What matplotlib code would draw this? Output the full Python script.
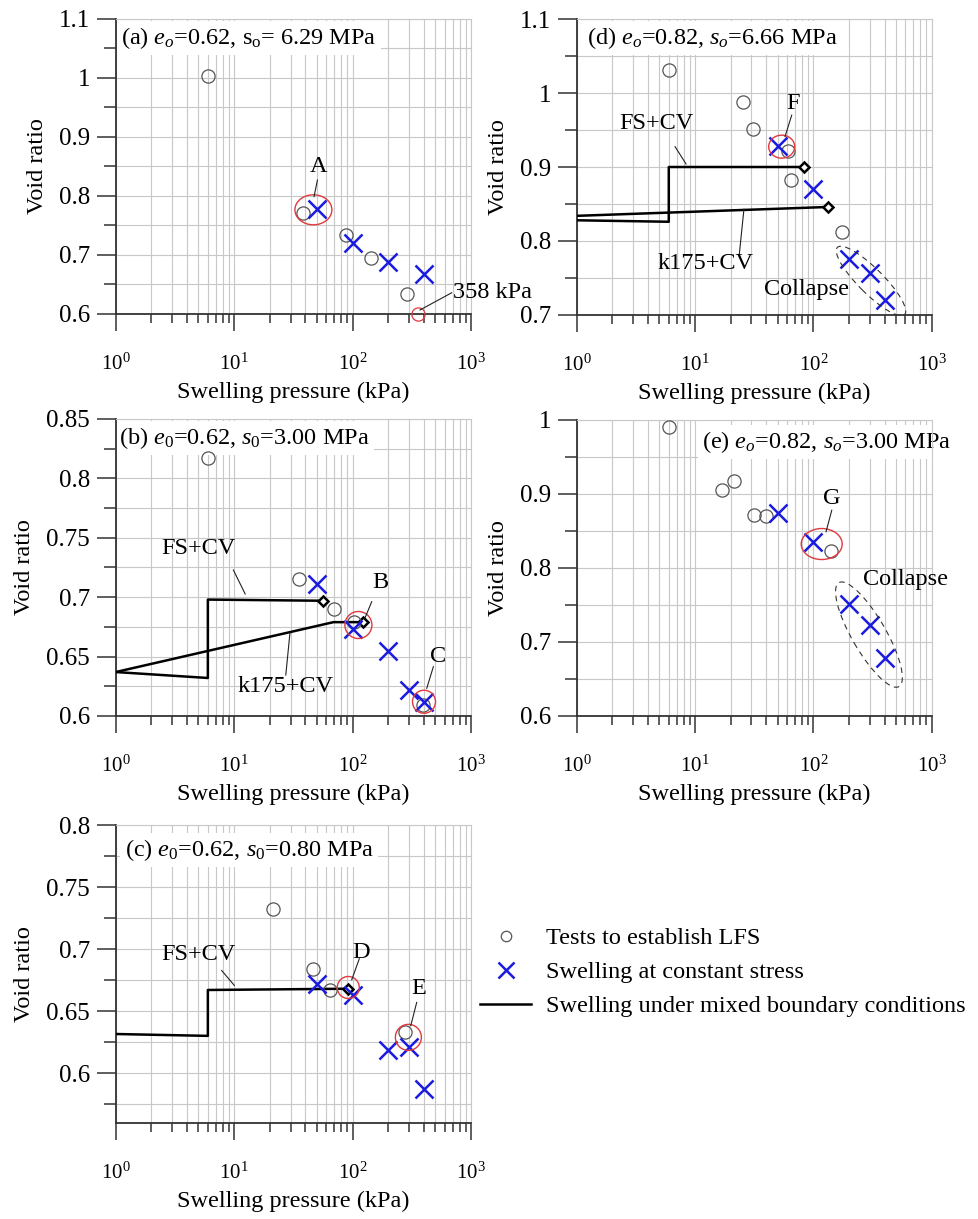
import numpy as np
import matplotlib
matplotlib.use("Agg")
import matplotlib.pyplot as plt
from matplotlib.patches import Ellipse
from matplotlib.transforms import ScaledTranslation
from matplotlib.ticker import MultipleLocator, FuncFormatter, LogLocator, NullFormatter
from matplotlib.lines import Line2D

plt.rcParams['font.family'] = ['Liberation Serif', 'DejaVu Serif']
plt.rcParams['mathtext.fontset'] = 'custom'
plt.rcParams['mathtext.rm'] = 'Liberation Serif'
plt.rcParams['mathtext.it'] = 'Liberation Serif:italic'
plt.rcParams['mathtext.bf'] = 'Liberation Serif:bold'

BLUE = '#1a1ae0'
RED = '#e0393e'
GRID = '#c8c8c8'
FS = 17.5

# ---- data (swelling pressure kPa, void ratio) ----
# (a) e0=0.62, s0=6.29 MPa
a_lfs_p = [6, 38, 87.5, 143, 290]
a_lfs_e = [1.003, 0.771, 0.734, 0.695, 0.634]
a_cs_p = [50, 100, 200, 400]
a_cs_e = [0.778, 0.720, 0.688, 0.667]
a_so_p = [358]
a_so_e = [0.600]

# (b) e0=0.62, s0=3.00 MPa
b_lfs_p = [6, 35.3, 70.1, 103, 390]
b_lfs_e = [0.817, 0.715, 0.690, 0.679, 0.609]
b_cs_p = [50, 100, 200, 300, 400]
b_cs_e = [0.711, 0.673, 0.655, 0.622, 0.612]
b_fs_p = [1, 6, 6, 56.6]
b_fs_e = [0.637, 0.632, 0.698, 0.697]
b_k175_p = [1, 69, 123]
b_k175_e = [0.637, 0.679, 0.679]

# (c) e0=0.62, s0=0.80 MPa
c_lfs_p = [21.4, 46.1, 64.5, 277]
c_lfs_e = [0.732, 0.684, 0.667, 0.633]
c_cs_p = [50, 100, 200, 300, 400]
c_cs_e = [0.672, 0.663, 0.619, 0.621, 0.587]
c_fs_p = [1, 6, 6, 92]
c_fs_e = [0.6315, 0.630, 0.667, 0.668]

# (d) e0=0.82, s0=6.66 MPa
d_lfs_p = [6, 25.3, 30.7, 61.5, 64.3, 173]
d_lfs_e = [1.031, 0.988, 0.952, 0.922, 0.882, 0.812]
d_cs_p = [50, 100, 200, 300, 400]
d_cs_e = [0.929, 0.870, 0.776, 0.757, 0.720]
d_fs_p = [1, 6, 6, 84]
d_fs_e = [0.828, 0.826, 0.900, 0.900]
d_k175_p = [1, 134]
d_k175_e = [0.834, 0.846]

# (e) e0=0.82, s0=3.00 MPa
e_lfs_p = [6, 16.8, 21.4, 31.5, 39.6, 140]
e_lfs_e = [0.991, 0.905, 0.917, 0.871, 0.870, 0.823]
e_cs_p = [50, 100, 200, 300, 400]
e_cs_e = [0.874, 0.835, 0.751, 0.723, 0.679]

fig = plt.figure(figsize=(9.79, 12.19), dpi=100)
W, H = 979, 1219


def make_axes(l, t, r, b):
    return fig.add_axes([l / W, 1 - b / H, (r - l) / W, (b - t) / H])


def setup(ax, ylim, major, minor, title, tx, ty):
    ax.set_xscale('log')
    ax.set_xlim(1, 1000)
    ax.set_ylim(*ylim)
    ax.yaxis.set_major_locator(MultipleLocator(major))
    ax.yaxis.set_minor_locator(MultipleLocator(minor))
    ax.yaxis.set_major_formatter(FuncFormatter(lambda v, p: f'{v:g}'))
    ax.xaxis.set_major_locator(LogLocator(base=10))
    ax.xaxis.set_minor_locator(LogLocator(base=10, subs=np.arange(2, 10)))
    ax.xaxis.set_minor_formatter(NullFormatter())
    ax.grid(True, which='both', color=GRID, lw=0.8)
    ax.set_axisbelow(True)
    for s in ['top', 'right']:
        ax.spines[s].set_color(GRID)
        ax.spines[s].set_linewidth(0.8)
    for s in ['left', 'bottom']:
        ax.spines[s].set_color('#333333')
        ax.spines[s].set_linewidth(1.3)
    ax.tick_params(which='both', direction='out', color='#333333', width=1.1)
    ax.tick_params(axis='x', which='major', length=12.5, labelsize=15, pad=16)
    ax.tick_params(axis='x', which='minor', length=6.5)
    ax.tick_params(axis='y', which='major', length=13.5, labelsize=18, pad=5)
    ax.tick_params(axis='y', which='minor', length=8.5)
    ax.set_xlabel('Swelling pressure (kPa)', fontsize=FS, labelpad=5)
    ax.set_ylabel('Void ratio', fontsize=FS, labelpad=8)
    ha = 'left' if tx < 0.5 else 'right'
    ax.text(tx, ty, title, transform=ax.transAxes, fontsize=FS, ha=ha, va='center',
            zorder=1, bbox=dict(facecolor='white', edgecolor='none', pad=3))


def lfs(ax, p, e):
    ax.plot(p, e, 'o', ms=9.5, mfc='none', mec='#555555', mew=0.9, zorder=3)


def cs(ax, p, e):
    ax.plot(p, e, 'x', ms=13, mec=BLUE, mew=1.8, zorder=4)


def mixed(ax, p, e):
    ax.plot(p, e, '-', color='k', lw=1.8, marker='D', markevery=[len(p) - 1],
            ms=5.5, mfc='white', mec='k', mew=1.8, zorder=3)


def ring(ax, x, y, w, h, color=RED, angle=0, ls='-', lw=1.0):
    # ellipse sized in pixels, centred on a data point
    el = Ellipse((0, 0), w / 100, h / 100, angle=angle, fill=False, edgecolor=color,
                 lw=lw, ls=ls, zorder=5,
                 transform=fig.dpi_scale_trans + ScaledTranslation(x, y, ax.transData))
    ax.add_patch(el)


def label(ax, text, xy, leader=None, ha='center'):
    ax.text(xy[0], xy[1], text, fontsize=FS, ha=ha, va='center', zorder=6)
    if leader is not None:
        (x1, y1), (x2, y2) = leader
        ax.plot([x1, x2], [y1, y2], color='#222222', lw=0.8, zorder=6, clip_on=False)


# (a)
ax = make_axes(115.7, 19, 471, 314)
setup(ax, (0.6, 1.1), 0.1, 0.05, r'(a) $e_o$=0.62, s$_\mathrm{o}$= 6.29 MPa', 0.015, 0.935)
lfs(ax, a_lfs_p, a_lfs_e)
cs(ax, a_cs_p, a_cs_e)
ax.plot(a_so_p, a_so_e, 'o', ms=9.5, mfc='none', mec=RED, mew=0.9, clip_on=False, zorder=3)
ring(ax, 46.7, 0.7766, 37, 30)
label(ax, 'A', (51.4, 0.85), ((50.5, 0.827), (47.3, 0.799)))
label(ax, '358 kPa', (700, 0.6356), ((371, 0.6068), (687, 0.636)), ha='left')

# (d)
ax = make_axes(576.7, 19, 931.7, 315)
setup(ax, (0.7, 1.1), 0.1, 0.05, r'(d) $e_o$=0.82, $s_o$=6.66 MPa', 0.03, 0.935)
mixed(ax, d_fs_p, d_fs_e)
mixed(ax, d_k175_p, d_k175_e)
lfs(ax, d_lfs_p, d_lfs_e)
cs(ax, d_cs_p, d_cs_e)
ring(ax, 54, 0.9275, 26, 23)
ring(ax, 307, 0.746, 95, 25, color='#333333', angle=-45, ls=(0, (5, 4)), lw=0.8)
label(ax, 'FS+CV', (4.74, 0.959), ((6.78, 0.9275), (8.4, 0.904)))
label(ax, 'k175+CV', (12.15, 0.770), ((23.7, 0.783), (25.9, 0.843)))
label(ax, 'F', (66.9, 0.986), ((65.6, 0.970), (57.6, 0.941)))
label(ax, 'Collapse', (87.9, 0.734))

# (b)
ax = make_axes(115.7, 419, 471, 716)
setup(ax, (0.6, 0.85), 0.05, 0.025, r'(b) $e_{\mathit{0}}$=0.62, $s_{\mathit{0}}$=3.00 MPa', 0.01, 0.935)
mixed(ax, b_fs_p, b_fs_e)
mixed(ax, b_k175_p, b_k175_e)
lfs(ax, b_lfs_p, b_lfs_e)
cs(ax, b_cs_p, b_cs_e)
ring(ax, 112, 0.6766, 27, 27)
ring(ax, 401, 0.612, 23, 23)
label(ax, 'FS+CV', (5.0, 0.741), ((9.85, 0.7229), (12.4, 0.7027)))
label(ax, 'k175+CV', (26.9, 0.6247), ((27.3, 0.6345), (29.6, 0.6699)))
label(ax, 'B', (171, 0.712), ((145, 0.6962), (127, 0.6822)))
label(ax, 'C', (530, 0.650), ((481, 0.6415), (423, 0.6233)))

# (e)
ax = make_axes(576.7, 420, 931.7, 716)
setup(ax, (0.6, 1.0), 0.1, 0.05, r'(e) $e_o$=0.82, $s_o$=3.00 MPa', 1.055, 0.925)
lfs(ax, e_lfs_p, e_lfs_e)
cs(ax, e_cs_p, e_cs_e)
ring(ax, 117.6, 0.8324, 41, 31)
ring(ax, 295, 0.710, 120, 34, color='#333333', angle=-60, ls=(0, (5, 4)), lw=0.8)
label(ax, 'G', (143, 0.894), ((143, 0.878), (128, 0.849)))
label(ax, 'Collapse', (595, 0.784))

# (c)
ax = make_axes(115.7, 825, 471, 1122.7)
setup(ax, (0.56, 0.8), 0.05, 0.025, r'(c) $e_{\mathit{0}}$=0.62, $s_{\mathit{0}}$=0.80 MPa', 0.025, 0.915)
mixed(ax, c_fs_p, c_fs_e)
lfs(ax, c_lfs_p, c_lfs_e)
cs(ax, c_cs_p, c_cs_e)
ring(ax, 92, 0.669, 22, 22)
ring(ax, 296, 0.6288, 26, 26)
label(ax, 'FS+CV', (5.0, 0.696), ((7.85, 0.6827), (10.05, 0.6706)))
label(ax, 'D', (119, 0.6976), ((114, 0.6922), (98.4, 0.6752)))
label(ax, 'E', (359, 0.668), ((348, 0.657), (310, 0.6382)))

# shared legend
handles = [
    Line2D([], [], ls='none', marker='o', ms=7.5, mfc='none', mec='#555555', mew=0.9),
    Line2D([], [], ls='none', marker='x', ms=11, mec=BLUE, mew=1.8),
    Line2D([], [], color='k', lw=1.8),
]
labels = ['Tests to establish LFS', 'Swelling at constant stress',
          'Swelling under mixed boundary conditions']
fig.legend(handles, labels, loc='upper left', bbox_to_anchor=(480 / W, 1 - 927 / H),
           frameon=False, fontsize=FS, handlelength=2.1, handletextpad=0.6,
           labelspacing=0.5, borderpad=0, borderaxespad=0, numpoints=1)

fig.savefig('out.png', dpi=100)
